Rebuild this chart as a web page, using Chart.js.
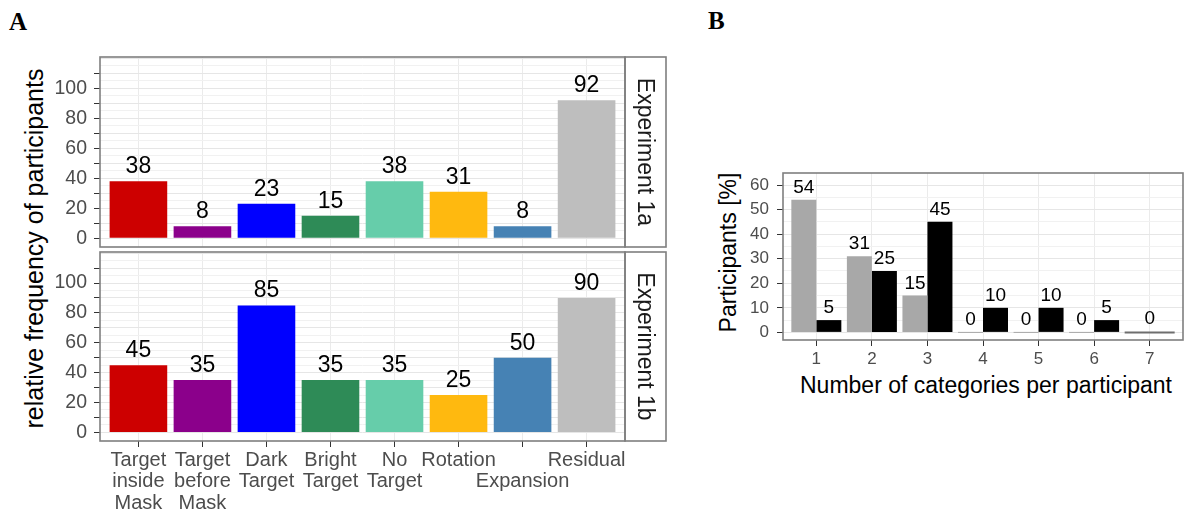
<!DOCTYPE html>
<html>
<head>
<meta charset="utf-8">
<script src="https://cdn.jsdelivr.net/npm/chart.js@4.4.1/dist/chart.umd.min.js"></script>
<style>
  body{margin:0;background:#fff;font-family:"Liberation Sans",Arial,sans-serif;}
  #wrap{position:relative;width:1187px;height:515px;overflow:hidden;background:#fff;}
  canvas{position:absolute;}
  .panel{position:absolute;font-family:"Liberation Serif","Times New Roman",serif;font-weight:bold;font-size:25px;line-height:25px;color:#000;}
  .title{position:absolute;white-space:nowrap;text-align:center;color:#000;}
  .rot{transform:rotate(-90deg);}
</style>
</head>
<body>
<div id="wrap">
  <div class="panel" style="left:9px;top:9px;">A</div>
  <div class="panel" style="left:708px;top:8px;">B</div>
  <div class="title rot" style="left:-176px;top:236px;width:420px;font-size:25px;line-height:25px;">relative frequency of participants</div>
  <div class="title rot" style="left:628px;top:241px;width:200px;font-size:23px;line-height:23px;">Participants [%]</div>
  <div class="title" style="left:786px;top:374px;width:400px;font-size:23px;line-height:23px;">Number of categories per participant</div>
  <canvas id="a1" width="670" height="250" style="left:0;top:0;width:670px;height:250px;"></canvas>
  <canvas id="a2" width="670" height="265" style="left:0;top:250px;width:670px;height:265px;"></canvas>
  <canvas id="b" width="487" height="270" style="left:700px;top:150px;width:487px;height:270px;"></canvas>
</div>
<script>
// Panel A: response categories per experiment
const categories = [
  ['Target', 'inside', 'Mask'],
  ['Target', 'before', 'Mask'],
  ['Dark', 'Target'],
  ['Bright', 'Target'],
  ['No', 'Target'],
  ['Rotation'],
  ['', 'Expansion'],
  ['Residual']
];
const exp1a = [38, 8, 23, 15, 38, 31, 8, 92];
const exp1b = [45, 35, 85, 35, 35, 25, 50, 90];
const barColors = ['#cd0000', '#8b008b', '#0000ff', '#2e8b57', '#66cdaa', '#ffb90f', '#4682b4', '#bebebe'];
const yLabelsA = [0, 20, 40, 60, 80, 100];

// Panel B: number of categories per participant
const counts = [1, 2, 3, 4, 5, 6, 7];
const countExp1a = [54, 31, 15, 0, 0, 0];
const countExp1b = [5, 25, 45, 10, 10, 5];
const countLast = [0];   // category 7 has a single bar
const yLabelsB = [0, 10, 20, 30, 40, 50, 60];

Chart.defaults.font.family = '"Liberation Sans", Arial, sans-serif';
const TICK_GREY = '#4d4d4d';

function steps(from, to, by){
  const out = [];
  for (let v = from; v <= to + 1e-9; v += by) out.push({value: v});
  return out;
}

function fixSize(w, h){
  return (s) => {
    if (w != null) s.width = w;
    if (h != null) s.height = h;
    s.paddingTop = 0; s.paddingBottom = 0; s.paddingLeft = 0; s.paddingRight = 0;
  };
}

const valueLabels = {
  id: 'valueLabels',
  afterDatasetsDraw(chart, args, opts){
    const ctx = chart.ctx;
    ctx.save();
    ctx.font = `${opts.size}px "Liberation Sans", Arial, sans-serif`;
    ctx.fillStyle = '#000';
    ctx.textAlign = 'center';
    ctx.textBaseline = 'alphabetic';
    chart.data.datasets.forEach((ds, di) => {
      chart.getDatasetMeta(di).data.forEach((bar, i) => {
        const v = ds.data[i].y;
        const top = Math.min(bar.y, bar.base);
        ctx.fillText(String(v), bar.x, top - opts.gap);
      });
    });
    ctx.restore();
  }
};

const panelFrame = {
  id: 'panelFrame',
  afterDraw(chart, args, opts){
    const {left, top, right, bottom} = chart.chartArea;
    const ctx = chart.ctx;
    ctx.save();
    ctx.strokeStyle = '#7f7f7f';
    ctx.lineWidth = 1.6;
    ctx.strokeRect(left, top, right - left, bottom - top);
    if (opts.strip){
      ctx.strokeRect(right, top, opts.stripWidth, bottom - top);
      ctx.translate(right + opts.stripWidth / 2 - 1, (top + bottom) / 2);
      ctx.rotate(Math.PI / 2);
      ctx.font = '23px "Liberation Sans", Arial, sans-serif';
      ctx.fillStyle = '#1a1a1a';
      ctx.textAlign = 'center';
      ctx.textBaseline = 'middle';
      ctx.fillText(opts.strip, 0, 0);
    }
    ctx.restore();
  }
};

function facet(id, values, strip, showX, padding){
  new Chart(document.getElementById(id), {
    type: 'bar',
    data: {
      datasets: [{
        data: values.map((v, i) => ({x: i + 1, y: v})),
        backgroundColor: barColors,
        barPercentage: 0.9,
        categoryPercentage: 1
      }]
    },
    options: {
      responsive: false,
      animation: false,
      events: [],
      layout: {padding},
      plugins: {
        legend: {display: false},
        tooltip: {enabled: false},
        valueLabels: {size: 23, gap: 8},
        panelFrame: {strip, stripWidth: 41}
      },
      scales: {
        x: {
          type: 'linear',
          offset: false,
          min: 0.4, max: 8.6,
          afterBuildTicks: (s) => { s.ticks = categories.map((c, i) => ({value: i + 1})); },
          afterFit: fixSize(null, showX ? 74 : 0),
          border: {display: false},
          grid: {
            offset: false,
            color: '#ebebeb',
            drawTicks: showX,
            tickLength: 6,
            tickColor: '#333'
          },
          ticks: {
            display: showX,
            autoSkip: false,
            maxRotation: 0, minRotation: 0,
            padding: 2.5,
            color: TICK_GREY,
            font: {size: 20, lineHeight: 1.075},
            callback: (v) => categories[Math.round(v) - 1]
          }
        },
        y: {
          min: -5.75, max: 120.75,
          afterBuildTicks: (s) => { s.ticks = steps(0, 120, 5); },
          afterFit: fixSize(100, null),
          border: {display: false},
          grid: {
            color: (c) => (c.tick && c.tick.value % 10 === 0) ? '#e6e6e6' : '#f1f1f1',
            tickLength: 6,
            tickColor: (c) => (c.tick && c.tick.value % 10 === 0 && c.tick.value <= 110) ? '#333' : 'rgba(0,0,0,0)'
          },
          ticks: {
            autoSkip: false,
            padding: 7,
            color: TICK_GREY,
            font: {size: 19.5},
            callback: (v) => yLabelsA.includes(v) ? String(v) : ''
          }
        }
      }
    },
    plugins: [valueLabels, panelFrame]
  });
}

facet('a1', exp1a, 'Experiment 1a', false, {top: 57, right: 45, bottom: 3, left: 0});
facet('a2', exp1b, 'Experiment 1b', true, {top: 2, right: 45, bottom: 0, left: 0});

new Chart(document.getElementById('b'), {
  type: 'bar',
  data: {
    datasets: [
      {
        label: 'Experiment 1a',
        data: countExp1a.map((v, i) => ({x: counts[i], y: v})),
        backgroundColor: '#a8a8a8',
        minBarLength: 1,
        categoryPercentage: 0.9, barPercentage: 1
      },
      {
        label: 'Experiment 1b',
        data: countExp1b.map((v, i) => ({x: counts[i], y: v})),
        backgroundColor: '#000000',
        minBarLength: 1,
        categoryPercentage: 0.9, barPercentage: 1
      },
      {
        label: 'single',
        data: countLast.map((v) => ({x: counts[counts.length - 1], y: v})),
        backgroundColor: '#6e6e6e',
        grouped: false,
        minBarLength: 2,
        categoryPercentage: 0.9, barPercentage: 1
      }
    ]
  },
  options: {
    responsive: false,
    animation: false,
    events: [],
    layout: {padding: {top: 23, right: 4, bottom: 0, left: 0}},
    plugins: {
      legend: {display: false},
      tooltip: {enabled: false},
      valueLabels: {size: 19, gap: 7},
      panelFrame: {strip: null}
    },
    scales: {
      x: {
        type: 'linear',
        offset: false,
        min: 0.4, max: 7.6,
        afterBuildTicks: (s) => { s.ticks = counts.map((c) => ({value: c})); },
        afterFit: fixSize(null, 80),
        border: {display: false},
        grid: {offset: false, color: '#ebebeb', tickLength: 6, tickColor: '#333'},
        ticks: {
          autoSkip: false,
          maxRotation: 0, minRotation: 0,
          padding: 3,
          color: TICK_GREY,
          font: {size: 17},
          callback: (v) => String(v)
        }
      },
      y: {
        min: -3.1, max: 64.9,
        afterBuildTicks: (s) => { s.ticks = steps(0, 60, 5); },
        afterFit: fixSize(83, null),
        border: {display: false},
        grid: {
          color: (c) => (c.tick && c.tick.value % 10 === 0) ? '#e6e6e6' : '#f1f1f1',
          tickLength: 6,
          tickColor: (c) => (c.tick && c.tick.value % 10 === 0) ? '#333' : 'rgba(0,0,0,0)'
        },
        ticks: {
          autoSkip: false,
          padding: 8,
          color: TICK_GREY,
          font: {size: 17},
          callback: (v) => yLabelsB.includes(v) ? String(v) : ''
        }
      }
    }
  },
  plugins: [valueLabels, panelFrame]
});
</script>
</body>
</html>
